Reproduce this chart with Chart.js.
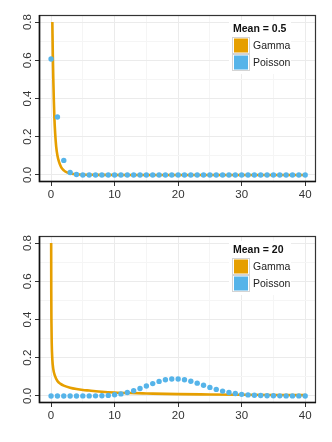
<!DOCTYPE html>
<html>
<head>
<meta charset="UTF-8">
<title>Gamma vs Poisson</title>
<script src="https://cdn.jsdelivr.net/npm/chart.js"></script>
<style>
body{margin:0;background:#fff;}
canvas{display:block;}
</style>
</head>
<body>
<canvas id="chart1" width="332" height="221"></canvas>
<canvas id="chart2" width="332" height="221"></canvas>
<script>
// data
var seriesNames = ['Gamma', 'Poisson'];
var seriesColors = ['#E69F00', '#56B4E9'];
var xTicks = [0, 10, 20, 30, 40];
var xMinor = [5, 15, 25, 35];
var yTicks = [0, 0.2, 0.4, 0.6, 0.8];
var yMinor = [0.1, 0.3, 0.5, 0.7];

var counts = [0,1,2,3,4,5,6,7,8,9,10,11,12,13,14,15,16,17,18,19,20,
              21,22,23,24,25,26,27,28,29,30,31,32,33,34,35,36,37,38,39,40];

// mean = 0.5
var poisson05 = [0.607,0.303,0.076,0.013,0.002,0,0,0,0,0,0,0,0,0,0,0,0,0,0,0,0,
                 0,0,0,0,0,0,0,0,0,0,0,0,0,0,0,0,0,0,0,0];
var gamma05X = [0.2,0.28,0.36,0.44,0.52,0.65,0.8,1.0,1.25,1.6,2.0,2.5,3.0,3.5,4.5,6,8,12,20,30,40];
var gamma05Y = [0.80,0.62,0.49,0.385,0.30,0.215,0.15,0.102,0.068,0.04,0.024,0.013,0.008,0.005,0.002,0.0007,0.0002,0,0,0,0];

// mean = 20
var poisson20 = [0,0,0,0,0,0.0001,0.0002,0.0005,0.0013,0.0029,0.0058,0.0106,0.0176,0.0271,0.0387,
                 0.0516,0.0646,0.0760,0.0844,0.0888,0.0888,0.0846,0.0769,0.0669,0.0557,0.0446,
                 0.0343,0.0254,0.0181,0.0125,0.0083,0.0054,0.0034,0.0020,0.0012,0.0007,0.0004,
                 0.0002,0.0001,0.0001,0];
var gamma20X = [0.015,0.03,0.06,0.1,0.2,0.35,0.6,1,1.5,2,3,4,5,6,8,10,12.5,15,20,25,30,35,40];
var gamma20Y = [0.80,0.55,0.38,0.28,0.19,0.14,0.106,0.078,0.063,0.054,0.043,0.036,0.031,0.028,
                0.022,0.018,0.015,0.013,0.0095,0.0078,0.0063,0.005,0.0041];

var FONT = "'Liberation Sans', Arial, sans-serif";

function pts(xs, ys){
  return xs.map(function(x, i){ return {x: x, y: ys[i]}; });
}

function isMajor(list, v){
  return list.some(function(t){ return Math.abs(t - v) < 1e-9; });
}

// panel frame + legend drawn inside the plot
var framePlugin = {
  id: 'frame',
  afterDraw: function(chart, args, opts){
    var a = chart.chartArea, c = chart.ctx;
    c.save();
    c.strokeStyle = '#333';
    c.lineWidth = 1.2;
    c.strokeRect(a.left + 0.5, a.top + 0.5, a.right - a.left - 1, a.bottom - a.top - 1);
    c.strokeStyle = '#111';
    c.lineWidth = 1.6;
    c.beginPath();
    c.moveTo(a.left + 0.5, a.top);
    c.lineTo(a.left + 0.5, a.bottom - 0.5);
    c.lineTo(a.right, a.bottom - 0.5);
    c.stroke();

    // legend
    var lx = a.right - 84, ly = a.top + 5;
    c.fillStyle = '#fff';
    c.fillRect(lx - 3, ly, 62, 54);
    c.fillStyle = '#111';
    c.font = 'bold 10.5px ' + FONT;
    c.textBaseline = 'middle';
    c.textAlign = 'left';
    c.fillText(opts.title, lx + 1, ly + 9);
    c.font = '10.5px ' + FONT;
    for (var i = 0; i < seriesNames.length; i++) {
      var ky = ly + 17 + i * 17;
      c.fillStyle = '#fff';
      c.fillRect(lx, ky, 18, 17);
      c.strokeStyle = '#d4d4d4';
      c.lineWidth = 1;
      c.strokeRect(lx + 0.5, ky + 0.5, 17, 16);
      c.fillStyle = seriesColors[i];
      c.fillRect(lx + 2, ky + 1.5, 14, 14);
      c.fillStyle = '#222';
      c.fillText(seriesNames[i], lx + 21, ky + 9);
    }
    c.restore();
  }
};

function makeChart(id, title, gx, gy, pois){
  new Chart(document.getElementById(id), {
    type: 'scatter',
    data: {
      datasets: [{
        label: seriesNames[0],
        data: pts(gx, gy),
        showLine: true,
        borderColor: seriesColors[0],
        borderWidth: 2.6,
        pointRadius: 0,
        cubicInterpolationMode: 'monotone',
        order: 1
      }, {
        label: seriesNames[1],
        data: pts(counts, pois),
        backgroundColor: seriesColors[1],
        borderWidth: 0,
        pointRadius: 2.7,
        order: 0
      }]
    },
    options: {
      responsive: false,
      animation: false,
      events: [],
      layout: {padding: {left: 0, right: 16, top: 15, bottom: 0}},
      plugins: {
        legend: {display: false},
        tooltip: {enabled: false},
        frame: {title: title}
      },
      scales: {
        x: {
          type: 'linear',
          min: -1.9,
          max: 41.7,
          afterBuildTicks: function(s){
            s.ticks = xTicks.concat(xMinor).sort(function(a, b){ return a - b; })
              .map(function(v){ return {value: v}; });
          },
          afterFit: function(s){ s.height = 39; },
          border: {display: false},
          grid: {
            color: function(ctx){ return isMajor(xTicks, ctx.tick.value) ? '#ebebeb' : '#f5f5f5'; },
            lineWidth: 1,
            tickLength: 4,
            tickColor: function(ctx){ return isMajor(xTicks, ctx.tick.value) ? '#333' : 'rgba(0,0,0,0)'; }
          },
          ticks: {
            autoSkip: false,
            maxRotation: 0,
            padding: 2,
            color: '#333',
            font: {family: FONT, size: 11.5},
            callback: function(v){ return isMajor(xTicks, v) ? String(v) : ''; }
          }
        },
        y: {
          type: 'linear',
          min: -0.037,
          max: 0.837,
          afterBuildTicks: function(s){
            s.ticks = yTicks.concat(yMinor).sort(function(a, b){ return a - b; })
              .map(function(v){ return {value: v}; });
          },
          afterFit: function(s){ s.width = 39; },
          border: {display: false},
          grid: {
            color: function(ctx){ return isMajor(yTicks, ctx.tick.value) ? '#ebebeb' : '#f5f5f5'; },
            lineWidth: 1,
            tickLength: 4,
            tickColor: function(ctx){ return isMajor(yTicks, ctx.tick.value) ? '#333' : 'rgba(0,0,0,0)'; }
          },
          ticks: {
            autoSkip: false,
            minRotation: 90,
            maxRotation: 90,
            crossAlign: 'center',
            padding: -0.5,
            color: '#333',
            font: {family: FONT, size: 11.5},
            callback: function(v){ return isMajor(yTicks, v) ? v.toFixed(1) : ''; }
          }
        }
      }
    },
    plugins: [framePlugin]
  });
}

makeChart('chart1', 'Mean = 0.5', gamma05X, gamma05Y, poisson05);
makeChart('chart2', 'Mean = 20', gamma20X, gamma20Y, poisson20);
</script>
</body>
</html>
